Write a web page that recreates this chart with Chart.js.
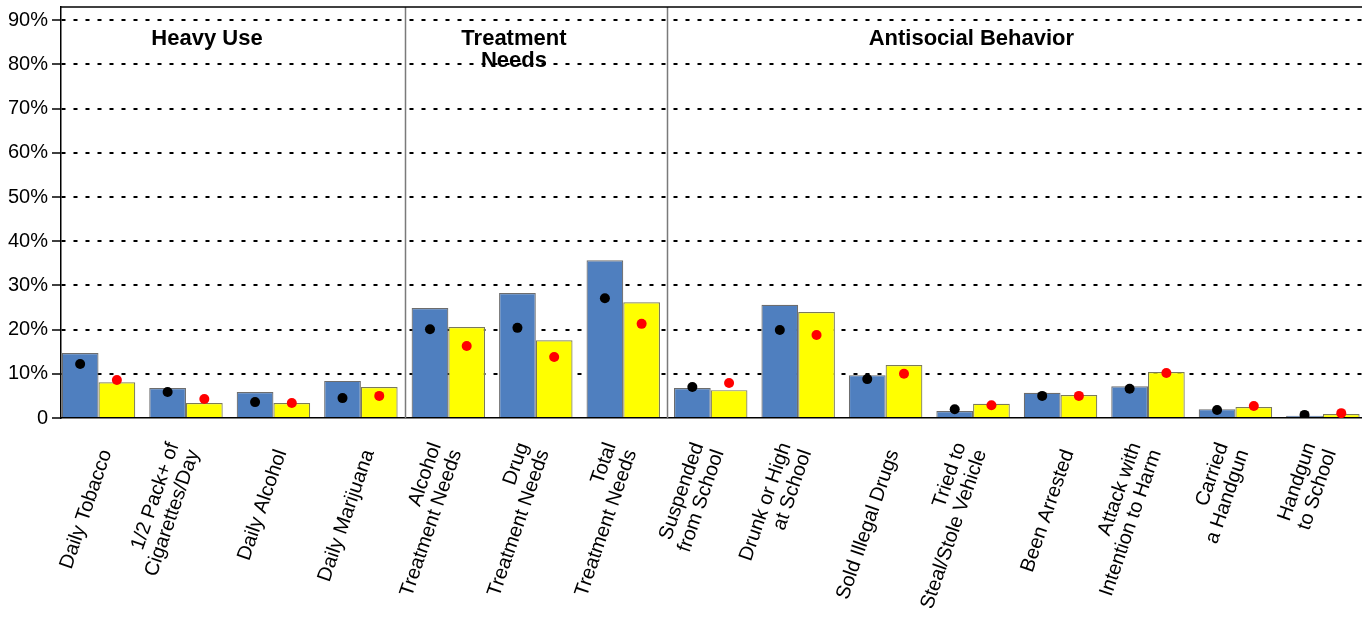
<!DOCTYPE html>
<html>
<head>
<meta charset="utf-8">
<script src="https://cdn.jsdelivr.net/npm/chart.js@4.4.1/dist/chart.umd.min.js"></script>
<style>
  html, body { margin: 0; padding: 0; background: #fff; }
  #wrap { width: 1362px; height: 620px; }
</style>
</head>
<body>
<div id="wrap"><canvas id="chart"></canvas></div>
<script>
// categories (multi-line labels as arrays)
const categories = [
  'Daily Tobacco', ['1/2 Pack+ of', 'Cigarettes/Day'], 'Daily Alcohol', 'Daily Marijuana',
  ['Alcohol', 'Treatment Needs'], ['Drug', 'Treatment Needs'], ['Total', 'Treatment Needs'],
  ['Suspended', 'from School'], ['Drunk or High', 'at School'], 'Sold Illegal Drugs',
  ['Tried to', 'Steal/Stole Vehicle'], 'Been Arrested', ['Attack with', 'Intention to Harm'],
  ['Carried', 'a Handgun'], ['Handgun', 'to School']
];
const blueBars   = [14.7, 6.8, 5.9, 8.4, 24.9, 28.3, 35.7, 6.8, 25.6, 9.7, 1.6, 5.7, 7.2, 2.0, 0.5];
const yellowBars = [8.1, 3.4, 3.4, 7.0, 20.6, 17.6, 26.2, 6.3, 24.0, 12.0, 3.2, 5.2, 10.4, 2.5, 0.9];
const blackDots  = [12.2, 5.9, 3.6, 4.5, 20.1, 20.4, 27.1, 7.0, 19.9, 8.8, 2.0, 5.0, 6.6, 1.8, 0.7];
const redDots    = [8.6, 4.3, 3.4, 5.0, 16.3, 13.8, 21.3, 7.9, 18.8, 10.0, 2.9, 5.0, 10.2, 2.7, 1.1];
const yTickLabels = ['0', '10%', '20%', '30%', '40%', '50%', '60%', '70%', '80%', '90%'];
const sectionTitles = [['Heavy Use'], ['Treatment', 'Needs'], ['Antisocial Behavior']];
const sectionBreaks = [3.5, 6.5];

const FONT = '"Liberation Sans", Arial, Helvetica, sans-serif';
const CAT_PCT = 0.84;
const dotShift = CAT_PCT / 4;   // centre of each bar inside the group
const X_LINE_H = 21.6;

const toPoints = (arr, shift) => arr.map((v, i) => ({ x: i + shift, y: v }));

// section dividers + titles, top frame line
const sectionPlugin = {
  id: 'sections',
  beforeDraw(chart) {
    // stack multi-line x labels upward so the last line sits where a single line would
    chart.scales.x.getLabelItems(chart.chartArea).forEach(it => {
      if (it._stacked) return;
      const n = Array.isArray(it.label) ? it.label.length : 1;
      it.textOffset -= (n - 1) * X_LINE_H;
      it._stacked = true;
    });
  },
  beforeDatasetsDraw(chart, args, opts) {
    const { ctx, chartArea: a, scales: { x } } = chart;
    ctx.save();
    ctx.strokeStyle = '#7a7a7a';
    ctx.lineWidth = 1.5;
    sectionBreaks.forEach(b => {
      const px = Math.round(x.getPixelForValue(b)) + 0.5;
      ctx.beginPath();
      ctx.moveTo(px, a.top);
      ctx.lineTo(px, a.bottom);
      ctx.stroke();
    });
    ctx.fillStyle = '#000';
    ctx.font = 'bold 22px ' + FONT;
    ctx.textAlign = 'center';
    ctx.textBaseline = 'middle';
    sectionTitles.forEach((lines, i) => {
      const px = x.getPixelForValue(opts.at[i]);
      lines.forEach((t, j) => ctx.fillText(t, px, a.top + 32 + j * 22));
    });
    ctx.restore();
  },
  afterDraw(chart) {
    const { ctx, chartArea: a } = chart;
    ctx.save();
    ctx.strokeStyle = '#000';
    ctx.lineWidth = 1.5;
    ctx.beginPath();
    ctx.moveTo(a.left, a.top);
    ctx.lineTo(a.right, a.top);
    ctx.stroke();
    ctx.restore();
  }
};

new Chart(document.getElementById('chart'), {
  type: 'bar',
  data: {
    datasets: [
      { type: 'scatter', data: toPoints(blackDots, -dotShift), backgroundColor: '#000', borderWidth: 0, pointRadius: 5, order: 1 },
      { type: 'scatter', data: toPoints(redDots, dotShift), backgroundColor: '#ff0000', borderWidth: 0, pointRadius: 5, order: 1 },
      { data: toPoints(blueBars, 0), backgroundColor: '#4f7fbf', borderColor: '#6d6d6d', borderWidth: 1.2, order: 2 },
      { data: toPoints(yellowBars, 0), backgroundColor: '#ffff00', borderColor: '#7a7a5a', borderWidth: 1.2, order: 2 }
    ]
  },
  options: {
    responsive: true,
    maintainAspectRatio: false,
    animation: false,
    layout: { autoPadding: false, padding: { top: 7, right: 0, bottom: 0, left: 0 } },
    datasets: { bar: { categoryPercentage: CAT_PCT, barPercentage: 1 } },
    plugins: {
      legend: { display: false },
      tooltip: { enabled: false },
      sections: { at: [1.24, 4.75, 9.98] }
    },
    scales: {
      x: {
        type: 'linear',
        offset: false,
        min: -0.429,
        max: 14.447,
        grid: { display: false, drawTicks: false },
        border: { display: true, color: '#000', width: 1.5 },
        afterFit(scale) { scale.height = 202; scale.paddingLeft = 0; scale.paddingRight = 0; },
        ticks: {
          stepSize: 1,
          autoSkip: false,
          includeBounds: false,
          minRotation: 71,
          maxRotation: 71,
          padding: 29,
          labelOffset: 8,
          color: '#000',
          font: { family: FONT, size: 20, lineHeight: X_LINE_H / 20 },
          callback: v => Number.isInteger(v) ? categories[v] : ''
        }
      },
      y: {
        min: 0,
        max: 93,
        grid: {
          color: c => c.tick && c.tick.value === 0 ? 'rgba(0,0,0,0)' : '#000',
          lineWidth: 2,
          tickColor: '#000',
          tickLength: 9,
          tickWidth: 1.5
        },
        border: { display: true, color: '#000', width: 1.5, dash: [4, 8] },
        afterFit(scale) { scale.width = 61; scale.paddingTop = 0; scale.paddingBottom = 0; },
        ticks: {
          stepSize: 10,
          includeBounds: false,
          padding: 4,
          color: '#000',
          font: { family: FONT, size: 20 },
          callback: v => yTickLabels[v / 10]
        }
      }
    }
  },
  plugins: [sectionPlugin]
});
</script>
</body>
</html>
